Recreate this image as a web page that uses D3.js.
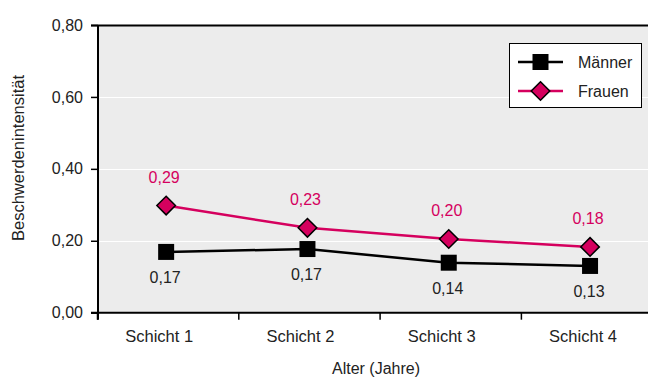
<!DOCTYPE html>
<html>
<head>
<meta charset="utf-8">
<script src="https://cdnjs.cloudflare.com/ajax/libs/d3/7.8.5/d3.min.js"></script>
<style>
  html, body { margin: 0; padding: 0; background: #fff; }
  svg { display: block; }
  text { font-family: "Liberation Sans", Arial, sans-serif; }
</style>
</head>
<body>
<svg id="chart" width="648" height="379"></svg>
<script>
const categories = ["Schicht 1", "Schicht 2", "Schicht 3", "Schicht 4"];
const seriesNames = ["Männer", "Frauen"];
const maenner = [0.169, 0.177, 0.139, 0.130];
const frauen = [0.298, 0.236, 0.205, 0.183];
const maennerLabels = ["0,17", "0,17", "0,14", "0,13"];
const frauenLabels = ["0,29", "0,23", "0,20", "0,18"];
const yTicks = [0, 0.2, 0.4, 0.6, 0.8];
const yTickLabels = ["0,00", "0,20", "0,40", "0,60", "0,80"];
const yTitle = "Beschwerdenintensität";
const xTitle = "Alter (Jahre)";

const W = 648, H = 379;
const pink = "#d5005e";
const svg = d3.select("#chart");

const x = d3.scaleBand().domain(categories).range([97.5, 97.5 + 4 * 141.3]).paddingInner(0).paddingOuter(0);
const y = d3.scaleLinear().domain([0, 0.8]).range([312.7, 25]);
const cx = c => x(c) + x.bandwidth() / 2 - 2;

// plot background
svg.append("rect").attr("x", 97.5).attr("y", 25).attr("width", W - 97.5).attr("height", y(0) - 25).attr("fill", "#ececec");

// gridlines
svg.append("g").selectAll("line").data(yTicks.filter(t => t > 0 && t < 0.8)).join("line")
  .attr("x1", 98).attr("x2", W).attr("y1", d => Math.round(y(d)) + 0.5).attr("y2", d => Math.round(y(d)) + 0.5)
  .attr("stroke", "#fff").attr("stroke-width", 1);

// top border
svg.append("line").attr("x1", 91).attr("x2", W).attr("y1", 25.5).attr("y2", 25.5).attr("stroke", "#000").attr("stroke-width", 2);

// y axis
const yAxis = d3.axisLeft(y).tickValues(yTicks).tickSize(7).tickPadding(8)
  .tickFormat((d, i) => yTickLabels[i]);
const gy = svg.append("g").attr("transform", "translate(98,0)").call(yAxis);
gy.select(".domain").attr("d", `M0,25V${y(0) + 7}`).attr("stroke-width", 2);
gy.selectAll(".tick line").attr("stroke-width", 1.5);
gy.selectAll(".tick text").attr("font-size", 16).attr("fill", "#222").attr("font-family", "Liberation Sans, Arial, sans-serif");

// x axis
const xAxis = d3.axisBottom(x).tickSize(0).tickPadding(14);
const gx = svg.append("g").attr("transform", `translate(0,${y(0)})`).call(xAxis);
gx.select(".domain").attr("d", `M91,0H${W}`).attr("stroke-width", 2);
gx.selectAll(".tick text").attr("font-size", 16.5).attr("fill", "#222").attr("dx", -9).attr("dy", "0.9em")
  .attr("font-family", "Liberation Sans, Arial, sans-serif");
// category boundary ticks
svg.append("g").selectAll("line").data(categories).join("line")
  .attr("x1", d => x(d)).attr("x2", d => x(d)).attr("y1", y(0)).attr("y2", y(0) + 7)
  .attr("stroke", "#000").attr("stroke-width", 1.5);

// titles
svg.append("text").attr("transform", `translate(24,158) rotate(-90)`).attr("text-anchor", "middle")
  .attr("font-size", 16.5).attr("fill", "#222").text(yTitle);
svg.append("text").attr("x", 376).attr("y", 374).attr("text-anchor", "middle")
  .attr("font-size", 16).attr("fill", "#222").text(xTitle);

const line = d3.line().x((d, i) => cx(categories[i])).y(d => y(d));

// series lines
svg.append("path").datum(maenner).attr("d", line).attr("fill", "none").attr("stroke", "#000").attr("stroke-width", 2.5);
svg.append("path").datum(frauen).attr("d", line).attr("fill", "none").attr("stroke", pink).attr("stroke-width", 2.5);

// markers
const sq = d3.symbol().type(d3.symbolSquare).size(256);
const dia = d3.symbol().type(d3.symbolDiamond2).size(220);
svg.append("g").selectAll("path").data(maenner).join("path")
  .attr("d", sq).attr("transform", (d, i) => `translate(${cx(categories[i])},${y(d)})`)
  .attr("fill", "#000");
svg.append("g").selectAll("path").data(frauen).join("path")
  .attr("d", dia).attr("transform", (d, i) => `translate(${cx(categories[i])},${y(d)})`)
  .attr("fill", pink).attr("stroke", "#000").attr("stroke-width", 1.5);

// value labels
svg.append("g").selectAll("text").data(frauen).join("text")
  .attr("x", (d, i) => cx(categories[i]) - 2).attr("y", d => y(d) - 23)
  .attr("text-anchor", "middle").attr("font-size", 16).attr("fill", pink)
  .text((d, i) => frauenLabels[i]);
svg.append("g").selectAll("text").data(maenner).join("text")
  .attr("x", (d, i) => cx(categories[i]) - 1).attr("y", d => y(d) + 31)
  .attr("text-anchor", "middle").attr("font-size", 16).attr("fill", "#222")
  .text((d, i) => maennerLabels[i]);

// legend
const lg = svg.append("g");
lg.append("rect").attr("x", 509.5).attr("y", 43.5).attr("width", 132).attr("height", 64)
  .attr("fill", "#fff").attr("stroke", "#000").attr("stroke-width", 1);
const legendRows = [
  { name: seriesNames[0], color: "#000", sym: sq, fill: "#000", stroke: "none", yy: 62 },
  { name: seriesNames[1], color: pink, sym: dia, fill: pink, stroke: "#000", yy: 91 }
];
legendRows.forEach(r => {
  lg.append("line").attr("x1", 518).attr("x2", 563).attr("y1", r.yy).attr("y2", r.yy)
    .attr("stroke", r.color).attr("stroke-width", 2.5);
  lg.append("path").attr("d", r.sym).attr("transform", `translate(540.5,${r.yy})`)
    .attr("fill", r.fill).attr("stroke", r.stroke).attr("stroke-width", 1.5);
  lg.append("text").attr("x", 578).attr("y", r.yy + 6).attr("font-size", 16).attr("fill", "#222").text(r.name);
});
</script>
</body>
</html>
